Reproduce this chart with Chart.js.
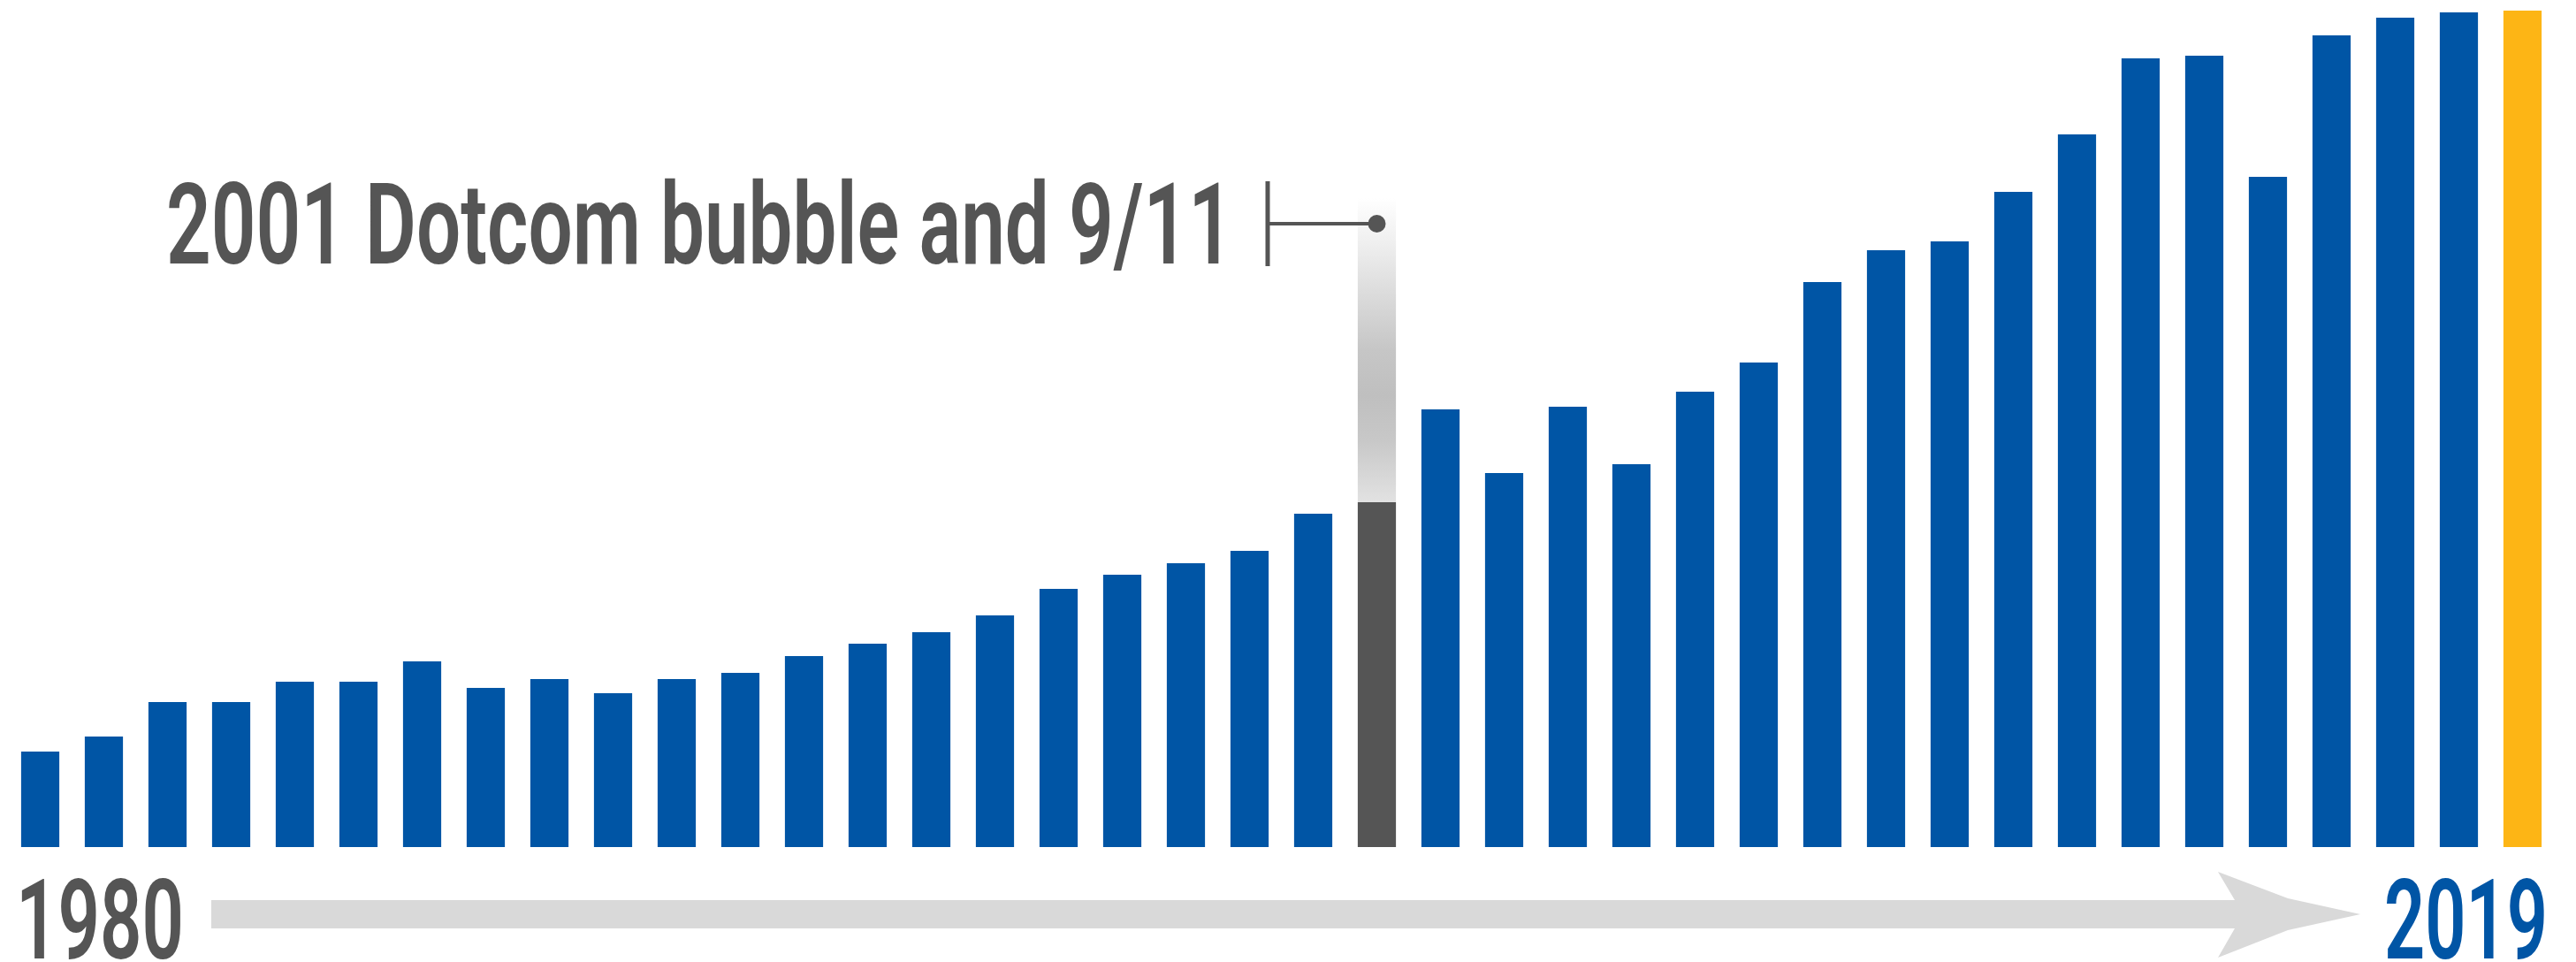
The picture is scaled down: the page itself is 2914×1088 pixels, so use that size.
<!DOCTYPE html>
<html>
<head>
<meta charset="utf-8">
<script src="https://cdn.jsdelivr.net/npm/chart.js@4.4.1/dist/chart.umd.min.js"></script>
<style>
  html, body { margin: 0; padding: 0; background: #ffffff; overflow: hidden; }
  #wrap { width: 2914px; height: 1088px; position: relative; }
</style>
</head>
<body>
<div id="wrap"><canvas id="c"></canvas></div>
<script>
// ---- Data ----
const years = ['1980','1981','1982','1983','1984','1985','1986','1987','1988','1989',
               '1990','1991','1992','1993','1994','1995','1996','1997','1998','1999',
               '2000','2001','2002','2003','2004','2005','2006','2007','2008','2009',
               '2010','2011','2012','2013','2014','2015','2016','2017','2018','2019'];
const values = [10.8, 12.5, 16.4, 16.4, 18.7, 18.7, 21.0, 18.0, 19.0, 17.4,
                19.0, 19.7, 21.6, 23.0, 24.3, 26.2, 29.2, 30.8, 32.1, 33.5,
                37.7, 39.0, 49.5, 42.3, 49.8, 43.3, 51.5, 54.8, 63.9, 67.5,
                68.5, 74.1, 80.6, 89.2, 89.5, 75.8, 91.8, 93.8, 94.4, 94.6];
const eventYear = '2001';
const eventLabel = '2001 Dotcom bubble and 9/11';
const eventMarkerValue = 70.5;   // level marked by the dot
const eventGhostTop = 73.4;      // top of the faded "missing" segment
const startLabel = '1980';
const endLabel = '2019';

// ---- Styles ----
const BLUE = '#0055A5';
const GREY = '#555555';
const ORANGE = '#FDB515';
const ARROW = '#D9D9D9';

const eventIndex = years.indexOf(eventYear);
const lastIndex = years.length - 1;
const ghostValues = years.map((y, i) => i === eventIndex ? +(eventGhostTop - values[i]).toFixed(1) : null);
const barColors = years.map((y, i) => i === eventIndex ? GREY : (i === lastIndex ? ORANGE : BLUE));

function fitText(ctx, text, x, baseline, targetWidth, size, color) {
  ctx.save();
  ctx.font = '600 ' + size + 'px Roboto';
  ctx.fillStyle = color;
  ctx.textBaseline = 'alphabetic';
  ctx.textAlign = 'left';
  const w = ctx.measureText(text).width;
  ctx.translate(x, baseline);
  ctx.scale(targetWidth / w, 1);
  ctx.fillText(text, 0, 0);
  ctx.restore();
}

const decor = {
  id: 'decor',
  afterDraw(chart) {
    const ctx = chart.ctx;
    const xs = chart.scales.x, ys = chart.scales.y;

    // timeline arrow
    ctx.save();
    ctx.fillStyle = ARROW;
    ctx.beginPath();
    ctx.moveTo(239, 1018);
    ctx.lineTo(2528, 1018);
    ctx.lineTo(2509, 986);
    ctx.lineTo(2588, 1016);
    ctx.lineTo(2670, 1034);
    ctx.lineTo(2588, 1052);
    ctx.lineTo(2509, 1083);
    ctx.lineTo(2528, 1050);
    ctx.lineTo(239, 1050);
    ctx.closePath();
    ctx.fill();
    ctx.restore();

    // year labels
    fitText(ctx, startLabel, 18, 1084, 190, 127, GREY);
    fitText(ctx, endLabel, 2697, 1084, 185, 127, BLUE);

    // annotation text
    const tx = 188, tw = 1207;
    fitText(ctx, eventLabel, tx, 298, tw, 128, GREY);

    // bracket + leader line + dot
    const bx = tx + tw + 39;
    const dotX = xs.getPixelForValue(eventIndex);
    const dotY = ys.getPixelForValue(eventMarkerValue);
    ctx.save();
    ctx.strokeStyle = GREY;
    ctx.fillStyle = GREY;
    ctx.lineWidth = 5;
    ctx.beginPath();
    ctx.moveTo(bx, 205);
    ctx.lineTo(bx, 301);
    ctx.stroke();
    ctx.lineWidth = 4;
    ctx.beginPath();
    ctx.moveTo(bx, dotY);
    ctx.lineTo(dotX, dotY);
    ctx.stroke();
    ctx.beginPath();
    ctx.arc(dotX, dotY, 10, 0, Math.PI * 2);
    ctx.fill();
    ctx.restore();
  }
};

function ghostFill(context) {
  const chart = context.chart;
  const ys = chart.scales.y;
  if (!chart.chartArea || !ys) return '#cccccc';
  const top = ys.getPixelForValue(eventGhostTop);
  const bottom = ys.getPixelForValue(values[eventIndex]);
  const g = chart.ctx.createLinearGradient(0, top, 0, bottom);
  g.addColorStop(0.00, '#ffffff');
  g.addColorStop(0.12, '#f2f2f2');
  g.addColorStop(0.26, '#e2e2e2');
  g.addColorStop(0.50, '#c6c6c6');
  g.addColorStop(0.65, '#bfbfbf');
  g.addColorStop(0.80, '#c8c8c8');
  g.addColorStop(1.00, '#e2e2e2');
  return g;
}

new Chart(document.getElementById('c'), {
  type: 'bar',
  data: {
    labels: years,
    datasets: [
      { data: values, backgroundColor: barColors, borderWidth: 0,
        categoryPercentage: 1, barPercentage: 0.6 },
      { data: ghostValues, backgroundColor: ghostFill, borderWidth: 0,
        categoryPercentage: 1, barPercentage: 0.6 }
    ]
  },
  options: {
    responsive: true,
    maintainAspectRatio: false,
    animation: false,
    devicePixelRatio: 1,
    layout: { padding: { left: 9.5, right: 24.5, top: 0, bottom: 130 } },
    plugins: { legend: { display: false }, tooltip: { enabled: false } },
    scales: {
      x: { display: false, stacked: true },
      y: { display: false, stacked: true, min: 0, max: 95.8 }
    }
  },
  plugins: [decor]
});
</script>
</body>
</html>
